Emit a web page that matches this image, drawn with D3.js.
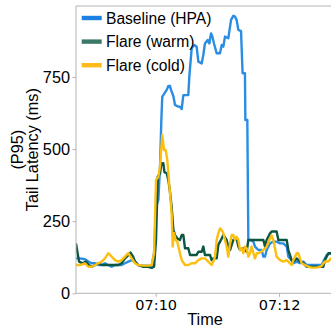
<!DOCTYPE html>
<html><head><meta charset="utf-8">
<script src="https://cdn.jsdelivr.net/npm/d3@7"></script>
<style>body{margin:0;background:#fff}svg{display:block}</style>
</head><body>
<svg id="c" width="331" height="331"></svg>
<script>
// time offsets in seconds relative to 07:10:00
const seriesNames = ["Baseline (HPA)", "Flare (warm)", "Flare (cold)"];
const baselineT = [-77.5,-73.6,-68.8,-65.5,-62.3,-59,-55.8,-52.5,-49.3,-46.1,-42.8,-39.6,-36.3,-33.1,-29.9,-26.6,-23.4,-20.1,-16.9,-12,-7.2,-3.9,-1.6,0.3,2.6,4.2,5.5,6.4,7.4,10.7,12.3,13.9,14.9,17.2,18.8,22,23.6,25.3,26.9,31.7,32.7,35,37.5,39.8,41.5,44.7,46.3,47.9,50.6,52.2,53.8,55.1,56.7,59.3,62.5,64.2,65.8,67.4,70.6,73.3,75.5,77.1,78.7,80.4,83,84.5,86.8,87.2,89.1,90.1,91.7,95,96.6,99.8,103.1,104.7,106.3,107.9,111.2,114.4,117.6,120.9,124.1,127.4,129,130.6,133.9,137.1,140.3,143.6,146.8,150.1,156.5,161.4,163.7,166.3,170.5,173.4];
const baselineV = [121,121,118,110,104,104,98,98,104,98,92,98,98,98,104,110,115,110,98,96,96,96,139,300,324,439,601,682,687,705,719,719,705,683,653,647,647,639,687,687,751,849,861,855,803,797,826,866,878,866,901,890,866,832,832,861,855,890,884,948,962,959,948,913,909,763,763,601,601,185,185,179,162,150,150,127,127,150,173,179,179,173,173,162,127,121,104,110,104,110,98,98,98,98,115,133,139,139];
const warmT = [-77.5,-76,-74.5,-71,-68,-65,-62,-59,-55.8,-52.5,-49.3,-46,-42.8,-39.6,-36.3,-33.1,-29.9,-28,-26.6,-24.5,-22,-20.1,-16.9,-12,-7.2,-3.9,-1.6,0.3,1.2,2,4.2,5.5,7.4,8.5,10.7,12.3,13.9,15.5,17.2,18.8,21,23.6,25.3,26.9,28.5,31.7,33.4,39.8,41.5,44.7,46.3,47.9,52.8,54.4,56.1,59.3,60.9,64.2,65.8,69,70.6,72.3,75.5,78.7,80.4,82,85.2,88.5,90.1,104.7,106.3,107.9,111.2,112.8,117.6,119.3,127.4,129,132.2,133.9,137.1,140.3,143.6,146.8,163,164.6,167.9,170.5,173.4];
const warmV = [173,140,110,104,110,98,92,98,104,98,98,98,98,98,98,104,121,127,133,141,127,110,98,92,92,88,92,185,300,404,416,450,451,420,416,393,352,300,220,202,190,185,202,202,156,156,133,133,144,144,162,133,133,115,121,121,168,190,202,185,162,150,185,190,162,150,156,144,185,185,162,185,208,214,214,185,185,150,115,110,121,110,104,92,92,115,139,139,139];
const coldT = [-77.5,-73.6,-68.8,-65.5,-62.3,-59,-55.8,-52.5,-49.3,-46.1,-42.8,-39.6,-36.3,-33.1,-29.9,-26.6,-23.4,-20.1,-16.9,-12,-7.2,-3.9,-1.6,0.3,2.6,4.2,6.4,8.1,9.7,11.3,12.3,13.9,15.5,16.5,17.8,19.4,21,23.6,25.3,28.5,31.7,35,38.2,41.5,44.7,47.9,51.2,54.4,56.1,57.7,59.3,60.9,62.5,64.2,65.8,67.4,69,70.6,72.3,73.9,75.5,77.1,78.7,80.4,82,83.6,85.2,86.8,88.5,90.1,91.7,93.3,95,96.6,98.2,99.8,103.1,106.3,107.9,110.5,112.8,114.4,116,117.6,120.9,124.1,127.4,130.6,132.2,133.9,137.1,138.7,140.3,142,145.2,148.4,151.7,156.5,159.8,161.4,163,164.6,167.9,170.5,173.4];
const coldV = [98,98,104,92,92,98,104,110,121,139,127,115,110,115,127,139,121,104,98,96,96,98,139,393,404,439,549,497,497,462,416,347,277,162,208,185,179,139,115,98,98,104,104,115,121,121,110,98,110,127,185,208,225,219,208,185,162,127,173,202,202,185,196,185,150,156,139,162,156,127,139,162,139,121,139,139,145,156,162,185,200,185,156,127,115,110,115,104,98,115,139,139,121,104,98,92,89,89,92,95,104,110,110,121,121];
const yTicks = [0, 250, 500, 750];
const xTickLabels = ["07:10", "07:12"];
const xStartSec = -77.5, xEndSec = 173.4;
const yMax = 996;

const lineColors = ["#2a8de4", "#0d5641", "#fcbf10"];
const legendColors = ["#1b7fe3", "#3a7967", "#fdba18"];

const base = new Date(2024, 0, 1, 7, 10, 0);
const toDate = s => new Date(base.getTime() + s * 1000);
const parseHM = d3.timeParse("%H:%M");
const toTick = lbl => { const p = parseHM(lbl); return new Date(2024,0,1,p.getHours(),p.getMinutes(),0); };

const svg = d3.select("#c");
const L = 76, R = 334, T = 6, B = 293.3;
const x = d3.scaleTime().domain([toDate(xStartSec), toDate(xEndSec)]).range([L, R]);
const y = d3.scaleLinear().domain([0, yMax]).range([B, T]);

svg.append("defs").append("clipPath").attr("id","clip").append("rect")
  .attr("x", L).attr("y", T).attr("width", R - L).attr("height", B - T);

const series = [[baselineT, baselineV], [warmT, warmV], [coldT, coldV]];
const line = d3.line().x(d => x(toDate(d[0]))).y(d => y(d[1]));
const g = svg.append("g").attr("clip-path", "url(#clip)");
series.forEach((s, i) => {
  const pts = s[0].map((t, j) => [t, s[1][j]]);
  g.append("path").datum(pts).attr("d", line)
    .attr("fill", "none").attr("stroke", lineColors[i])
    .attr("stroke-width", 2.4).attr("stroke-linejoin", "round");
});

const spine = "#b3b3b3";
const xAxis = d3.axisBottom(x).tickValues(xTickLabels.map(toTick))
  .tickFormat(d3.timeFormat("%H:%M")).tickSize(3.5).tickPadding(3);
const xg = svg.append("g").attr("transform", `translate(0,${B})`).call(xAxis);
xg.select(".domain").remove();
xg.selectAll("line").attr("stroke", spine);
xg.selectAll("text").attr("font-family", "DejaVu Sans").attr("font-size", 14.5).attr("fill", "#000");

const yAxis = d3.axisLeft(y).tickValues(yTicks).tickSize(3.5).tickPadding(2.5);
const yg = svg.append("g").attr("transform", `translate(${L},0)`).call(yAxis);
yg.select(".domain").remove();
yg.selectAll("line").attr("stroke", spine);
yg.selectAll("text").attr("font-family", "Liberation Sans").attr("font-size", 16.3).attr("fill", "#000");

svg.append("line").attr("x1", L).attr("x2", L).attr("y1", T).attr("y2", B).attr("stroke", spine).attr("stroke-width", 1);
svg.append("line").attr("x1", L).attr("x2", R).attr("y1", B).attr("y2", B).attr("stroke", spine).attr("stroke-width", 1);
svg.append("line").attr("x1", L).attr("x2", R).attr("y1", T).attr("y2", T).attr("stroke", spine).attr("stroke-width", 1);

svg.append("text").attr("x", 205).attr("y", 325).attr("text-anchor", "middle")
  .attr("font-family", "Liberation Sans").attr("font-size", 16.3).attr("fill", "#000").text("Time");
const yl = svg.append("text").attr("transform", `translate(0,${(T + B) / 2}) rotate(-90)`)
  .attr("text-anchor", "middle").attr("font-family", "Liberation Sans").attr("font-size", 16.3).attr("fill", "#000");
yl.append("tspan").attr("x", 0).attr("y", 22.5).text("(P95)");
yl.append("tspan").attr("x", 0).attr("y", 37.8).text("Tail Latency (ms)");

const lg = svg.append("g");
seriesNames.forEach((n, i) => {
  const cy = 18 + i * 23.6;
  lg.append("rect").attr("x", 81.7).attr("y", cy - 2.2).attr("width", 20).attr("height", 4.4).attr("fill", legendColors[i]);
  lg.append("text").attr("x", 106).attr("y", cy).attr("dy", "0.36em")
    .attr("font-family", "Liberation Sans").attr("font-size", 15.6).attr("fill", "#000").text(n);
});
</script>
</body></html>
